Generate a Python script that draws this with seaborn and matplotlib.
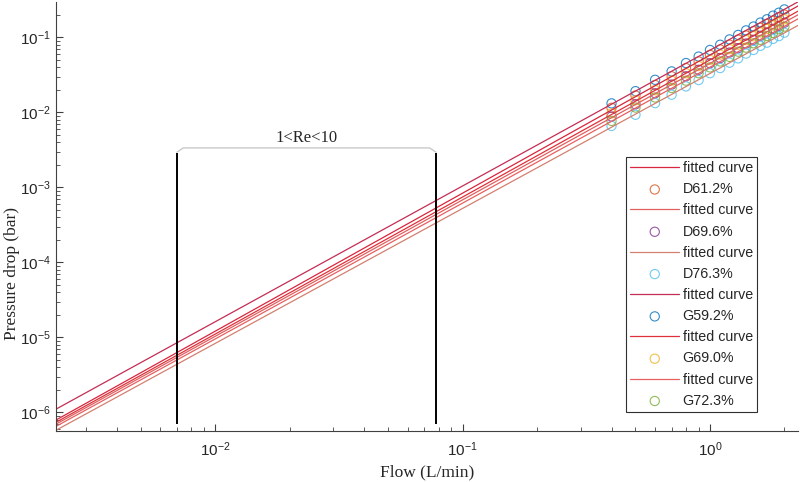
import numpy as np
import seaborn as sns
import matplotlib.pyplot as plt

# measured points (flow in L/min, pressure drop in bar)
flow = [0.4, 0.5, 0.6, 0.7, 0.8, 0.9, 1.0, 1.1, 1.2, 1.3, 1.4, 1.5, 1.6, 1.7, 1.8, 1.9, 2.0]

dp_D612 = [0.0115, 0.0168, 0.0232, 0.0303, 0.0390, 0.0478, 0.0585, 0.0690, 0.0800,
           0.0935, 0.1060, 0.1210, 0.1345, 0.1510, 0.1665, 0.1850, 0.2015]
dp_D696 = [0.0088, 0.0128, 0.0180, 0.0235, 0.0303, 0.0370, 0.0452, 0.0530, 0.0628,
           0.0718, 0.0828, 0.0930, 0.1052, 0.1165, 0.1300, 0.1425, 0.1570]
dp_D763 = [0.0066, 0.0093, 0.0133, 0.0172, 0.0222, 0.0270, 0.0333, 0.0390, 0.0460,
           0.0525, 0.0608, 0.0680, 0.0772, 0.0850, 0.0955, 0.1040, 0.1155]
dp_G592 = [0.0132, 0.0192, 0.0272, 0.0352, 0.0455, 0.0555, 0.0680, 0.0798, 0.0940,
           0.1078, 0.1240, 0.1395, 0.1578, 0.1745, 0.1950, 0.2135, 0.2360]
dp_G690 = [0.0097, 0.0145, 0.0198, 0.0265, 0.0333, 0.0415, 0.0502, 0.0590, 0.0697,
           0.0800, 0.0920, 0.1035, 0.1168, 0.1295, 0.1445, 0.1585, 0.1745]
dp_G723 = [0.0077, 0.0116, 0.0158, 0.0212, 0.0265, 0.0333, 0.0398, 0.0478, 0.0550,
           0.0645, 0.0730, 0.0835, 0.0928, 0.1045, 0.1145, 0.1280, 0.1390]

labels = ['D61.2%', 'D69.6%', 'D76.3%', 'G59.2%', 'G69.0%', 'G72.3%']
series = [dp_D612, dp_D696, dp_D763, dp_G592, dp_G690, dp_G723]

# power-law fits  dp = a * Q^b
fit_a = [0.058, 0.045, 0.033, 0.0675, 0.050, 0.040]
fit_b = [1.840, 1.819, 1.799, 1.810, 1.827, 1.811]

marker_colors = ['#D95319', '#7E2F8E', '#4DBEEE', '#0072BD', '#EDB120', '#77AC30']
line_colors = ['#D7263D', '#E06060', '#D38070', '#C42D55', '#E0303A', '#E86060']

# laminar window 1<Re<10
re_lo, re_hi = 0.007, 0.078

sns.set_style('ticks')
plt.rcParams['font.family'] = ['Liberation Sans', 'DejaVu Sans']
plt.rcParams['xtick.direction'] = 'in'
plt.rcParams['ytick.direction'] = 'in'

fig, ax = plt.subplots(figsize=(8, 4.82), dpi=100)
fig.subplots_adjust(left=0.07, right=0.9975, bottom=0.106, top=0.996)
ax.set_xscale('log')
ax.set_yscale('log')

x_fit = np.array([2.0e-3, 2.6])
handles = []
for i in range(len(labels)):
    sns.lineplot(x=x_fit, y=fit_a[i] * x_fit ** fit_b[i], color=line_colors[i],
                 linewidth=0.9, ax=ax)
    h_line = ax.lines[-1]
    sns.scatterplot(x=flow, y=series[i], marker='o', s=44, facecolor='none',
                    edgecolor=marker_colors[i], linewidth=0.8, alpha=0.8, ax=ax)
    h_pts = ax.collections[-1]
    handles += [h_line, h_pts]

# Re range markers
ax.vlines([re_lo, re_hi], 7.0e-7, 2.9e-3, color='black', linewidth=1.4)
ax.plot([re_lo, re_lo * 1.06, re_hi / 1.06, re_hi],
        [2.95e-3, 3.36e-3, 3.36e-3, 2.95e-3], color='#c4c4c4', linewidth=0.9)
ax.text(np.sqrt(re_lo * re_hi), 4.6e-3, '1<Re<10', ha='center', va='center',
        family='Liberation Serif', fontsize=12)

ax.set_xlim(2.27e-3, 2.27)
ax.set_ylim(5.67e-7, 0.297)

ax.set_xlabel('Flow (L/min)', family='Liberation Serif', fontsize=12.5, labelpad=4)
ax.set_ylabel('Pressure drop (bar)', family='Liberation Serif', fontsize=12.5)
ax.yaxis.set_label_coords(-0.049, 0.366)

sns.despine(ax=ax)
for sp in ['left', 'bottom']:
    ax.spines[sp].set_color('#404040')
    ax.spines[sp].set_linewidth(0.8)
ax.tick_params(which='major', length=5, width=0.8, color='#404040', labelsize=11)
ax.tick_params(axis='x', which='major', pad=7)
ax.tick_params(axis='y', which='major', pad=4)
ax.tick_params(which='minor', length=3, width=0.6, color='#404040')

leg_labels = []
for lab in labels:
    leg_labels += ['fitted curve', lab]
leg = ax.legend(handles, leg_labels, loc='upper right', bbox_to_anchor=(0.945, 0.639),
                borderaxespad=0, fontsize=10.3, handlelength=3.4, handletextpad=0.25,
                labelspacing=0.5, borderpad=0.3, fancybox=False, framealpha=1,
                edgecolor='#303030', scatterpoints=1)
leg.get_frame().set_linewidth(0.8)

fig.savefig('out.png', dpi=100)
